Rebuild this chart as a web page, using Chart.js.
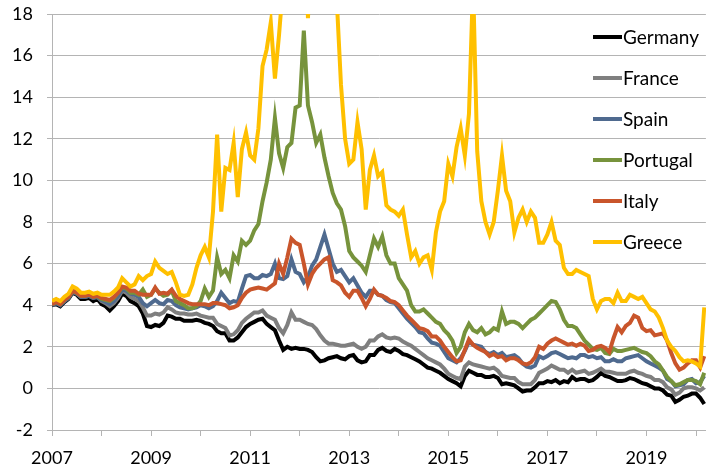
<!DOCTYPE html>
<html>
<head>
<meta charset="utf-8">
<title>10-year government bond yields</title>
<script src="https://cdn.jsdelivr.net/npm/chart.js@4.4.1/dist/chart.umd.min.js"></script>
<style>
  body { margin: 0; background: #fff; }
  #wrap { position: relative; width: 707px; height: 470px; }
  #legend { position: absolute; left: 593px; top: 16px; font-family: Lato, sans-serif; font-size: 19px; color: #000; }
  #legend div { height: 41px; display: flex; align-items: center; white-space: nowrap; }
  #legend .ln { display: inline-block; width: 29px; height: 4px; margin-right: 1px; }
</style>
</head>
<body>
<div id="wrap">
  <canvas id="chart" width="707" height="470"></canvas>
  <div id="legend"></div>
</div>
<script>
// series, one value per month from Jan 2007
const countries = ['Germany', 'France', 'Spain', 'Portugal', 'Italy', 'Greece'];
const colors = ['#000000', '#7f7f7f', '#4f6a8f', '#77933c', '#c9552b', '#ffc000'];
const startYear = 2007;
const xLabelYears = [2007, 2009, 2011, 2013, 2015, 2017, 2019];

const germany = [
  4.0, 4.05, 3.95, 4.15, 4.3, 4.6, 4.5, 4.3, 4.3, 4.35, 4.2, 4.3,
  4.05, 3.95, 3.75, 3.95, 4.2, 4.55, 4.45, 4.2, 4.1, 3.95, 3.6, 3.0,
  2.95, 3.05, 3.0, 3.15, 3.5, 3.45, 3.35, 3.35, 3.25, 3.25, 3.25, 3.3,
  3.25, 3.15, 3.1, 3.0, 2.75, 2.65, 2.65, 2.3, 2.3, 2.45, 2.7, 2.95,
  3.1, 3.2, 3.3, 3.35, 3.1, 2.95, 2.8, 2.3, 1.85, 2.0, 1.9, 1.95,
  1.9, 1.9, 1.85, 1.75, 1.5, 1.3, 1.35, 1.45, 1.5, 1.55, 1.45, 1.4,
  1.55, 1.6, 1.35, 1.25, 1.3, 1.6, 1.6, 1.85, 1.95, 1.8, 1.75, 1.9,
  1.8, 1.65, 1.6, 1.5, 1.4, 1.3, 1.15, 1.0, 0.95, 0.85, 0.75, 0.6,
  0.45, 0.35, 0.25, 0.1, 0.6, 0.85, 0.75, 0.65, 0.65, 0.55, 0.55, 0.6,
  0.5, 0.2, 0.25, 0.2, 0.15, 0.0, -0.15, -0.1, -0.1, 0.05, 0.25, 0.25,
  0.35, 0.3, 0.4, 0.25, 0.35, 0.3, 0.55, 0.4, 0.45, 0.45, 0.35, 0.4,
  0.55, 0.75, 0.6, 0.55, 0.45, 0.35, 0.35, 0.4, 0.5, 0.45, 0.35, 0.25,
  0.2, 0.1, 0.0, 0.0, -0.1, -0.3, -0.35, -0.65, -0.55, -0.4, -0.35, -0.25,
  -0.25, -0.45, -0.75
];
const france = [
  4.05, 4.1, 4.05, 4.2, 4.35, 4.65, 4.55, 4.4, 4.4, 4.45, 4.35, 4.4,
  4.2, 4.1, 3.95, 4.1, 4.35, 4.7, 4.6, 4.4, 4.3, 4.2, 3.9, 3.5,
  3.5, 3.6, 3.55, 3.65, 3.9, 3.8, 3.65, 3.6, 3.6, 3.55, 3.55, 3.6,
  3.5, 3.45, 3.4, 3.4, 3.1, 3.0, 2.9, 2.55, 2.6, 2.8, 3.15, 3.35,
  3.5, 3.65, 3.65, 3.75, 3.5, 3.4, 3.3, 2.9, 2.65, 3.05, 3.65, 3.3,
  3.3, 3.2, 3.1, 3.05, 2.85, 2.55, 2.3, 2.15, 2.15, 2.1, 2.05, 2.05,
  2.1, 2.15, 2.0, 1.9, 2.0, 2.3, 2.3, 2.5, 2.6, 2.45, 2.4, 2.45,
  2.4, 2.25, 2.15, 2.05, 1.9, 1.75, 1.6, 1.45, 1.35, 1.25, 1.15, 0.95,
  0.7, 0.6, 0.5, 0.45, 1.05, 1.25, 1.15, 1.1, 1.05, 1.0, 0.95, 1.0,
  0.85, 0.6, 0.55, 0.5, 0.5, 0.3, 0.2, 0.2, 0.2, 0.4, 0.75, 0.85,
  0.95, 1.1, 1.0, 0.9, 0.9, 0.75, 0.9, 0.75, 0.8, 0.85, 0.7, 0.75,
  0.85, 0.95, 0.8, 0.8, 0.75, 0.7, 0.7, 0.7, 0.8, 0.85, 0.75, 0.7,
  0.6, 0.55, 0.4, 0.4, 0.3, 0.05, -0.05, -0.3, -0.2, 0.0, 0.05, 0.05,
  0.0, -0.1, 0.05
];
const spain = [
  4.0, 4.1, 4.0, 4.2, 4.35, 4.65, 4.55, 4.4, 4.4, 4.45, 4.35, 4.4,
  4.25, 4.15, 4.05, 4.2, 4.45, 4.75, 4.7, 4.55, 4.5, 4.4, 4.1, 3.95,
  4.1, 4.25, 4.1, 4.05, 4.25, 4.2, 4.0, 3.9, 3.85, 3.8, 3.85, 3.9,
  4.0, 3.95, 3.85, 3.95, 4.2, 4.6, 4.35, 4.1, 4.2, 4.15, 4.8, 5.4,
  5.45, 5.3, 5.3, 5.45, 5.4, 5.5, 6.0, 5.3, 5.25, 5.4, 6.2, 5.6,
  5.5, 5.1, 5.35, 5.9, 6.2, 6.8, 7.4, 6.7, 6.0, 5.6, 5.7, 5.4,
  5.1, 5.3, 4.95, 4.6, 4.4, 4.7, 4.7, 4.5, 4.45, 4.25, 4.15, 4.1,
  3.85, 3.6, 3.35, 3.15, 2.95, 2.7, 2.65, 2.4, 2.2, 2.15, 2.05, 1.75,
  1.45, 1.35, 1.25, 1.45, 1.8, 2.25, 2.1, 2.05, 2.0, 1.75, 1.65, 1.75,
  1.6, 1.7, 1.5, 1.55, 1.6, 1.45, 1.2, 1.05, 1.0, 1.1, 1.55, 1.45,
  1.55, 1.7, 1.75, 1.65, 1.55, 1.45, 1.5, 1.45, 1.6, 1.6, 1.5, 1.55,
  1.45, 1.5, 1.3, 1.3, 1.4, 1.3, 1.3, 1.45, 1.5, 1.55, 1.6, 1.45,
  1.3, 1.2, 1.1, 1.0, 0.85, 0.45, 0.35, 0.1, 0.15, 0.2, 0.4, 0.45,
  0.25, 0.3, 0.6
];
const portugal = [
  4.05, 4.15, 4.05, 4.25, 4.4, 4.7, 4.6, 4.45, 4.45, 4.5, 4.4, 4.45,
  4.3, 4.25, 4.2, 4.35, 4.6, 4.85, 4.8, 4.6, 4.6, 4.5, 4.75, 4.4,
  4.5, 4.8, 4.6, 4.45, 4.5, 4.7, 4.2, 4.1, 4.0, 3.85, 3.85, 3.95,
  4.2, 4.8, 4.4, 4.7, 6.3, 5.5, 5.7, 5.3, 6.4, 6.1, 7.1, 6.9,
  7.1, 7.6, 7.9, 9.0, 9.9, 11.0, 13.0, 11.3, 10.6, 11.6, 11.8, 13.5,
  13.6, 17.2, 13.6, 12.8, 11.8, 12.2, 11.1, 10.2, 9.4, 8.9, 8.6, 7.8,
  6.6, 6.3, 6.1, 5.9, 5.6, 6.4, 7.2, 6.8, 7.3, 6.4, 6.0, 6.0,
  5.3, 5.0, 4.7, 4.0, 3.7, 3.7, 3.8, 3.6, 3.4, 3.2, 3.1, 2.8,
  2.6, 2.3, 1.7, 2.0, 2.7, 3.1, 2.8, 2.7, 2.9, 2.6, 2.7, 2.9,
  2.8, 3.7, 3.1, 3.2, 3.2, 3.1, 2.9, 3.1, 3.3, 3.4, 3.6, 3.8,
  4.0, 4.2, 4.15, 3.8, 3.3, 3.0, 3.0, 2.9, 2.6, 2.3, 2.1, 1.9,
  1.85, 1.95, 1.7, 1.65, 1.9, 1.8, 1.8, 1.85, 1.9, 1.95, 1.85, 1.75,
  1.7, 1.55, 1.3, 1.15, 0.85, 0.55, 0.35, 0.15, 0.2, 0.3, 0.4, 0.4,
  0.35, 0.2, 0.75
];
const italy = [
  4.05, 4.15, 4.05, 4.25, 4.4, 4.7, 4.6, 4.45, 4.45, 4.5, 4.4, 4.45,
  4.35, 4.3, 4.25, 4.4, 4.6, 4.9, 4.85, 4.7, 4.7, 4.55, 4.5, 4.5,
  4.5, 4.85, 4.55, 4.6, 4.55, 4.75, 4.45, 4.3, 4.2, 4.1, 4.05, 4.05,
  4.05, 4.05, 4.0, 4.1, 4.1, 4.05, 4.0, 3.85, 3.9, 4.0, 4.35, 4.6,
  4.75, 4.8, 4.85, 4.8, 4.75, 4.9, 5.05, 6.0, 5.5, 6.3, 7.2, 7.0,
  6.9, 6.0, 5.0, 5.5, 5.8, 6.0, 6.2, 6.3, 5.2, 5.1, 4.95, 4.6,
  4.4, 4.7, 4.7, 4.35, 3.95, 4.3, 4.75, 4.5, 4.45, 4.35, 4.2, 4.15,
  4.0, 3.75, 3.5, 3.3, 3.1, 2.9, 2.85, 2.75, 2.5, 2.5, 2.3, 2.0,
  1.75, 1.5, 1.3, 1.35, 1.85, 2.35, 2.1, 1.95, 1.85, 1.75, 1.55, 1.65,
  1.5, 1.55, 1.35, 1.45, 1.45, 1.35, 1.2, 1.15, 1.25, 1.5, 2.0, 1.9,
  2.15, 2.3, 2.4, 2.3, 2.2, 2.1, 2.15, 2.05, 2.15, 2.05, 1.8, 1.85,
  2.0, 2.05, 1.95, 1.75, 2.4, 2.95, 2.7, 3.0, 3.15, 3.5, 3.4, 2.9,
  2.75, 2.8, 2.55, 2.6, 2.65, 2.3, 1.7, 1.2, 0.9, 1.0, 1.2, 1.35,
  1.35, 1.0, 1.55
];
const greece = [
  4.2, 4.3, 4.2, 4.4, 4.55, 4.9, 4.8, 4.6, 4.6, 4.65, 4.55, 4.6,
  4.5, 4.5, 4.5, 4.65, 4.85, 5.3, 5.1, 4.9, 5.0, 5.4, 5.2, 5.4,
  5.5, 6.1, 5.8, 5.65, 5.5, 5.6, 5.1, 4.5, 4.45, 4.5, 5.0, 5.8,
  6.4, 6.8, 6.3, 8.5, 12.2, 8.5, 10.6, 10.5, 11.8, 9.2, 11.5, 12.3,
  11.2, 11.0, 12.5, 15.5, 16.3, 17.6, 14.9, 17.0, 19.5, 24, 26, 30,
  30, 27, 17.8, 22, 27, 27, 25, 24, 22, 18.6, 14.6, 12.0,
  10.8, 11.0, 12.8, 11.5, 8.6, 10.5, 11.2, 10.2, 10.4, 8.8, 8.6, 8.5,
  8.3, 8.6, 7.4, 6.3, 6.6, 6.0, 6.3, 6.4, 5.7, 7.5, 8.5, 9.0,
  10.8, 10.2, 11.6, 12.5, 11.2, 13.2, 19.5, 11.4, 9.0, 8.0, 7.4, 8.0,
  9.5, 11.2, 9.5, 9.0, 7.5, 8.2, 8.6, 8.0, 8.5, 8.2, 7.0, 7.0,
  7.4, 8.0, 7.1, 6.9, 5.8, 5.5, 5.5, 5.7, 5.6, 5.5, 5.4, 4.3,
  3.8, 4.2, 4.3, 4.3, 4.1, 4.6, 4.2, 4.2, 4.5, 4.4, 4.3, 4.4,
  4.1, 3.8, 3.7, 3.4, 2.9, 2.3, 2.0, 1.8, 1.5, 1.3, 1.35, 1.3,
  1.2, 1.05, 3.9
];

const series = [germany, france, spain, portugal, italy, greece];
const months = germany.map((v, i) => startYear + i / 12);

const tickFont = { family: 'Lato', size: 18 };
const gridGray = '#b4b4b4';

const datasets = series.map(function (vals, k) {
  return {
    label: countries[k],
    data: vals.map((v, i) => ({ x: months[i], y: v })),
    borderColor: colors[k],
    backgroundColor: colors[k],
    borderWidth: 4,
    pointRadius: 0,
    tension: 0,
    clip: 0,
    order: series.length - k   // later series drawn on top, like the original
  };
});

const myChart = new Chart(document.getElementById('chart'), {
  type: 'line',
  data: { datasets: datasets },
  options: {
    responsive: false,
    animation: false,
    layout: { padding: { top: 14, right: 0, left: 0, bottom: 0 } },
    plugins: { legend: { display: false }, tooltip: { enabled: false } },
    scales: {
      x: {
        type: 'linear',
        min: 2007,
        max: 2020.2,
        afterFit: function (s) { s.height = 40; },
        ticks: {
          stepSize: 1,
          includeBounds: false,
          autoSkip: false,
          maxRotation: 0,
          padding: 11,
          color: '#000',
          font: tickFont,
          callback: v => xLabelYears.includes(v) ? String(v) : ''
        },
        grid: { drawOnChartArea: false, drawTicks: true, tickLength: 6, color: gridGray },
        border: { color: gridGray }
      },
      y: {
        min: -2,
        max: 18,
        // fixed axis width; tick padding should not push the plot down
        afterFit: function (s) { s.width = 52; s.paddingTop = 0; s.paddingBottom = 0; },
        ticks: { stepSize: 2, padding: 14, color: '#000', font: tickFont },
        grid: { color: gridGray, tickLength: 5 },
        border: { color: gridGray }
      }
    }
  }
});

// legend inside the plot, on the right
const legend = document.getElementById('legend');
countries.forEach(function (name, k) {
  const row = document.createElement('div');
  const ln = document.createElement('span');
  ln.className = 'ln';
  ln.style.background = colors[k];
  row.appendChild(ln);
  row.appendChild(document.createTextNode(name));
  legend.appendChild(row);
});
</script>
</body>
</html>
